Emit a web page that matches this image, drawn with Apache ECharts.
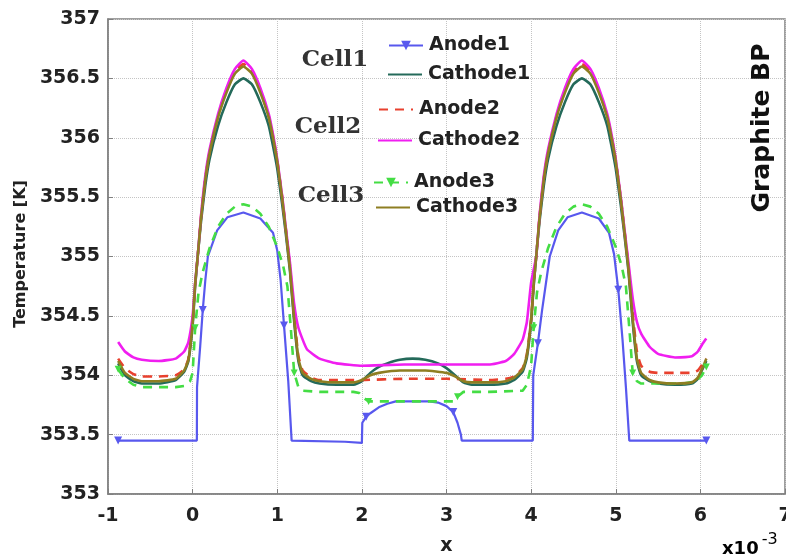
<!DOCTYPE html>
<html>
<head>
<meta charset="utf-8">
<script src="https://cdn.jsdelivr.net/npm/echarts@6/dist/echarts.min.js"></script>
<style>html,body{margin:0;padding:0;background:#fff;}#chart{width:786px;height:555px;}</style>
</head>
<body>
<div id="chart"></div>
<script>
// ---- data (x in units of 1e-3) ----
const xTicks = [-1, 0, 1, 2, 3, 4, 5, 6, 7];
const yTicks = [353, 353.5, 354, 354.5, 355, 355.5, 356, 356.5, 357];
const seriesNames = ['Anode1', 'Cathode1', 'Anode2', 'Cathode2', 'Anode3', 'Cathode3'];
const cellLabels = ['Cell1', 'Cell2', 'Cell3'];

const anode1 = [[-0.88,353.45],[0.05,353.45],[0.052,353.9],[0.09,354.25],[0.12,354.55],[0.15,354.8],[0.18,355.0],[0.29,355.22],[0.41,355.33],[0.6,355.37],[0.8,355.32],[0.95,355.2],[1.0,355.05],[1.04,354.8],[1.08,354.42],[1.13,353.95],[1.17,353.45],[1.8,353.44],[2.0,353.43],[2.005,353.6],[2.05,353.65],[2.1,353.68],[2.2,353.73],[2.3,353.76],[2.4,353.78],[2.8,353.78],[2.9,353.77],[3.0,353.74],[3.08,353.69],[3.13,353.6],[3.17,353.5],[3.18,353.45],[4.02,353.45],[4.025,354.0],[4.08,354.27],[4.13,354.55],[4.18,354.8],[4.22,355.0],[4.32,355.22],[4.43,355.33],[4.6,355.37],[4.8,355.32],[4.92,355.2],[4.98,355.02],[5.03,354.72],[5.08,354.3],[5.12,353.9],[5.16,353.45],[6.07,353.45]];
const anode1Markers = [-0.88, 0.12, 1.08, 2.05, 3.08, 4.08, 5.03, 6.07];

const cathode1 = [[-0.88,354.1],[-0.8,354.0],[-0.7,353.95],[-0.6,353.93],[-0.4,353.93],[-0.2,353.96],[-0.1,354.03],[-0.05,354.12],[0,354.42],[0.03,354.75],[0.06,355.0],[0.1,355.3],[0.15,355.6],[0.2,355.82],[0.3,356.1],[0.4,356.3],[0.5,356.45],[0.6,356.5],[0.7,356.45],[0.8,356.3],[0.9,356.1],[0.95,355.93],[1.0,355.74],[1.06,355.43],[1.1,355.2],[1.15,354.88],[1.2,354.45],[1.25,354.12],[1.3,354.0],[1.4,353.95],[1.5,353.93],[1.7,353.92],[1.9,353.92],[2.0,353.95],[2.1,354.02],[2.2,354.07],[2.3,354.1],[2.45,354.13],[2.6,354.14],[2.75,354.13],[2.9,354.1],[3.0,354.06],[3.1,354.0],[3.2,353.94],[3.3,353.92],[3.5,353.92],[3.7,353.93],[3.8,353.96],[3.9,354.03],[3.95,354.15],[4.0,354.45],[4.03,354.75],[4.06,355.0],[4.1,355.3],[4.15,355.6],[4.2,355.82],[4.3,356.1],[4.4,356.3],[4.5,356.45],[4.6,356.5],[4.7,356.45],[4.8,356.3],[4.9,356.1],[4.95,355.93],[5.0,355.74],[5.06,355.43],[5.1,355.2],[5.15,354.88],[5.2,354.45],[5.25,354.12],[5.3,354.0],[5.4,353.95],[5.5,353.93],[5.7,353.92],[5.9,353.93],[5.97,353.97],[6.03,354.06],[6.07,354.12]];

const anode2 = [[-0.88,354.14],[-0.8,354.06],[-0.7,354.01],[-0.6,353.99],[-0.4,353.99],[-0.2,354.0],[-0.1,354.05],[-0.05,354.14],[0,354.45],[0.03,354.77],[0.06,355.0],[0.1,355.34],[0.15,355.66],[0.2,355.88],[0.3,356.18],[0.4,356.4],[0.5,356.56],[0.6,356.62],[0.7,356.56],[0.8,356.4],[0.9,356.18],[0.95,356.01],[1.0,355.81],[1.06,355.49],[1.1,355.24],[1.15,354.92],[1.2,354.5],[1.25,354.16],[1.3,354.04],[1.4,353.98],[1.5,353.96],[2.0,353.96],[2.5,353.97],[3.0,353.97],[3.5,353.96],[3.7,353.97],[3.8,353.99],[3.9,354.06],[3.95,354.18],[4.0,354.47],[4.03,354.77],[4.06,355.0],[4.1,355.34],[4.15,355.66],[4.2,355.88],[4.3,356.18],[4.4,356.4],[4.5,356.56],[4.6,356.62],[4.7,356.56],[4.8,356.4],[4.9,356.18],[4.95,356.01],[5.0,355.81],[5.06,355.49],[5.1,355.24],[5.15,354.92],[5.2,354.52],[5.25,354.2],[5.3,354.08],[5.4,354.03],[5.5,354.02],[5.7,354.02],[5.9,354.02],[5.97,354.04],[6.03,354.1],[6.07,354.14]];

const cathode2 = [[-0.88,354.28],[-0.8,354.2],[-0.7,354.15],[-0.6,354.13],[-0.4,354.12],[-0.2,354.14],[-0.1,354.2],[-0.05,354.28],[0,354.5],[0.03,354.78],[0.06,355.0],[0.1,355.35],[0.15,355.68],[0.2,355.9],[0.3,356.2],[0.4,356.42],[0.5,356.58],[0.6,356.65],[0.7,356.58],[0.8,356.42],[0.9,356.2],[0.95,356.03],[1.0,355.82],[1.06,355.5],[1.1,355.25],[1.15,354.95],[1.2,354.6],[1.25,354.4],[1.35,354.22],[1.5,354.14],[1.7,354.1],[2.0,354.08],[2.5,354.09],[3.0,354.09],[3.5,354.09],[3.7,354.12],[3.8,354.18],[3.9,354.3],[3.95,354.45],[4.0,354.78],[4.06,355.0],[4.1,355.35],[4.15,355.68],[4.2,355.9],[4.3,356.2],[4.4,356.42],[4.5,356.58],[4.6,356.65],[4.7,356.58],[4.8,356.42],[4.9,356.2],[4.95,356.03],[5.0,355.82],[5.06,355.5],[5.1,355.25],[5.15,354.95],[5.2,354.65],[5.25,354.45],[5.3,354.35],[5.4,354.24],[5.5,354.18],[5.7,354.15],[5.9,354.16],[5.97,354.2],[6.03,354.27],[6.07,354.31]];

const anode3 = [[-0.88,354.05],[-0.8,353.97],[-0.7,353.92],[-0.6,353.9],[-0.4,353.9],[-0.2,353.9],[-0.1,353.91],[-0.03,353.95],[0,354.02],[0.03,354.4],[0.07,354.7],[0.12,354.87],[0.2,355.07],[0.3,355.25],[0.4,355.36],[0.5,355.42],[0.6,355.44],[0.7,355.42],[0.8,355.36],[0.9,355.25],[1.0,355.08],[1.07,354.92],[1.12,354.75],[1.16,354.4],[1.2,354.02],[1.25,353.9],[1.3,353.87],[1.5,353.86],[1.9,353.86],[1.97,353.85],[2.02,353.81],[2.08,353.78],[2.3,353.78],[2.6,353.78],[2.9,353.78],[3.08,353.78],[3.13,353.82],[3.2,353.86],[3.5,353.86],[3.9,353.87],[3.95,353.92],[4.0,354.08],[4.03,354.4],[4.07,354.7],[4.12,354.87],[4.2,355.07],[4.3,355.25],[4.4,355.36],[4.5,355.42],[4.6,355.44],[4.7,355.42],[4.8,355.36],[4.9,355.25],[5.0,355.08],[5.07,354.92],[5.12,354.75],[5.16,354.4],[5.2,354.02],[5.25,353.95],[5.3,353.93],[5.5,353.93],[5.8,353.93],[5.95,353.95],[6.02,354.0],[6.07,354.07]];
const anode3Markers = [-0.88, 0.03, 1.2, 2.08, 3.13, 4.03, 5.2, 6.07];

const cathode3 = [[-0.88,354.12],[-0.8,354.02],[-0.7,353.97],[-0.6,353.95],[-0.4,353.95],[-0.2,353.97],[-0.1,354.04],[-0.05,354.13],[0,354.44],[0.03,354.77],[0.06,355.0],[0.1,355.33],[0.15,355.65],[0.2,355.87],[0.3,356.17],[0.4,356.38],[0.5,356.54],[0.6,356.6],[0.7,356.54],[0.8,356.38],[0.9,356.17],[0.95,356.0],[1.0,355.8],[1.06,355.48],[1.1,355.23],[1.15,354.9],[1.2,354.48],[1.25,354.14],[1.3,354.02],[1.4,353.97],[1.5,353.95],[1.7,353.94],[1.9,353.94],[2.0,353.96],[2.1,354.0],[2.2,354.02],[2.45,354.04],[2.75,354.04],[3.0,354.02],[3.1,353.99],[3.2,353.95],[3.3,353.94],[3.5,353.94],[3.7,353.95],[3.8,353.98],[3.9,354.05],[3.95,354.17],[4.0,354.47],[4.03,354.77],[4.06,355.0],[4.1,355.33],[4.15,355.65],[4.2,355.87],[4.3,356.17],[4.4,356.38],[4.5,356.54],[4.6,356.6],[4.7,356.54],[4.8,356.38],[4.9,356.17],[4.95,356.0],[5.0,355.8],[5.06,355.48],[5.1,355.23],[5.15,354.9],[5.2,354.48],[5.25,354.14],[5.3,354.02],[5.4,353.96],[5.5,353.94],[5.7,353.93],[5.9,353.94],[5.97,353.98],[6.03,354.07],[6.07,354.14]];

// ---- styling ----
const FONT = 'DejaVu Sans';
const colors = {
  Anode1: '#5858ee', Cathode1: '#246a5a', Anode2: '#e8402e',
  Cathode2: '#f01ef0', Anode3: '#44dd44', Cathode3: '#8e7e22'
};

function withMarkers(pts, markerXs) {
  return pts.map(p => markerXs.indexOf(p[0]) >= 0 ? { value: p } : { value: p, symbol: 'none' });
}

const chart = echarts.init(document.getElementById('chart'), null, { renderer: 'canvas' });

function lineSeries(name, data, opts) {
  return Object.assign({
    name: name, type: 'line', data: data, symbol: 'none', showSymbol: true,
    showAllSymbol: true, animation: false, clip: true,
    smooth: 0.15,
    lineStyle: { color: colors[name], width: 2.6 },
    itemStyle: { color: colors[name] }
  }, opts || {});
}

const legendPos = [
  { name: 'Anode1', left: 388, cy: 43, marker: true },
  { name: 'Cathode1', left: 387, cy: 72 },
  { name: 'Anode2', left: 378, cy: 107 },
  { name: 'Cathode2', left: 377, cy: 138 },
  { name: 'Anode3', left: 373, cy: 180, marker: true },
  { name: 'Cathode3', left: 375, cy: 205 }
];
const cellPos = [{ x: 335, y: 60 }, { x: 328, y: 127 }, { x: 331, y: 196 }];

const option = {
  backgroundColor: '#ffffff',
  animation: false,
  grid: { left: 108, right: 1, top: 19, bottom: 61, show: true, borderColor: '#808080', borderWidth: 1.5, backgroundColor: '#fff', outerBoundsMode: 'none', containLabel: false },
  xAxis: {
    type: 'value', min: -1, max: 7, interval: 1,
    name: 'x', nameLocation: 'middle', nameGap: 43,
    nameTextStyle: { fontFamily: FONT, fontWeight: 'bold', fontSize: 19, color: '#222' },
    axisLine: { show: true, onZero: false, lineStyle: { color: '#808080', width: 1.5 } },
    axisTick: { show: true, inside: true, length: 5, lineStyle: { color: '#808080' } },
    axisLabel: { margin: 13, fontFamily: FONT, fontWeight: 'bold', fontSize: 19, color: '#222',
      hideOverlap: false, formatter: v => xTicks.indexOf(v) >= 0 ? String(v) : '' },
    splitLine: { show: true, lineStyle: { color: '#c4c4c4', type: 'dotted', width: 1 } }
  },
  yAxis: {
    type: 'value', min: 353, max: 357, interval: 0.5,
    axisLine: { show: true, onZero: false, lineStyle: { color: '#808080', width: 1.5 } },
    axisTick: { show: true, inside: true, length: 5, lineStyle: { color: '#808080' } },
    axisLabel: { margin: 8, fontFamily: FONT, fontWeight: 'bold', fontSize: 19, color: '#222',
      formatter: v => yTicks.indexOf(v) >= 0 ? String(v) : '' },
    splitLine: { show: true, lineStyle: { color: '#c4c4c4', type: 'dotted', width: 1 } }
  },
  legend: legendPos.map(l => ({
    data: [l.name], left: l.left, top: l.cy - 7, orient: 'vertical', padding: 0,
    itemWidth: 34, itemHeight: 12, itemGap: 0, selectedMode: false,
    itemStyle: l.marker ? {} : { opacity: 0 },
    textStyle: { fontFamily: FONT, fontWeight: 'bold', fontSize: 19, color: '#222', padding: [0, 0, 0, 1] }
  })),
  graphic: [
    ...cellLabels.map((t, i) => ({
      type: 'text', x: cellPos[i].x, y: cellPos[i].y, z: 100,
      style: { text: t, fontFamily: 'DejaVu Serif', fontWeight: 'bold', fontSize: 23, fill: '#333', align: 'center', verticalAlign: 'middle' }
    })),
    { type: 'text', x: 21, y: 254, rotation: Math.PI / 2, z: 100,
      style: { text: 'Temperature [K]', fontFamily: FONT, fontWeight: 'bold', fontSize: 16, fill: '#222', align: 'center', verticalAlign: 'middle' } },
    { type: 'text', x: 762, y: 128, rotation: Math.PI / 2, z: 100,
      style: { text: 'Graphite BP', fontFamily: FONT, fontWeight: 'bold', fontSize: 25, fill: '#111', align: 'center', verticalAlign: 'middle' } },
    { type: 'text', x: 722, y: 549, z: 100,
      style: { text: '{b|x10}{s|-3}', fontFamily: FONT, align: 'left', verticalAlign: 'middle',
        rich: { b: { fontFamily: FONT, fontWeight: 'bold', fontSize: 18, color: '#222' },
                s: { fontFamily: FONT, fontSize: 16, color: '#222', padding: [0, 0, 18, 3] } } } }
  ],
  series: [
    lineSeries('Anode1', withMarkers(anode1, anode1Markers), { smooth: false, symbol: 'triangle', symbolRotate: 180, symbolSize: 8, lineStyle: { color: colors.Anode1, width: 2.2 } }),
    lineSeries('Cathode1', cathode1),
    lineSeries('Anode2', anode2, { lineStyle: { color: colors.Anode2, width: 2.6, type: [9, 7] } }),
    lineSeries('Cathode2', cathode2),
    lineSeries('Anode3', withMarkers(anode3, anode3Markers), { smooth: false, symbol: 'triangle', symbolRotate: 180, symbolSize: 7, lineStyle: { color: colors.Anode3, width: 2.6, type: [9, 7] } }),
    lineSeries('Cathode3', cathode3)
  ]
};
chart.setOption(option);
</script>
</body>
</html>
